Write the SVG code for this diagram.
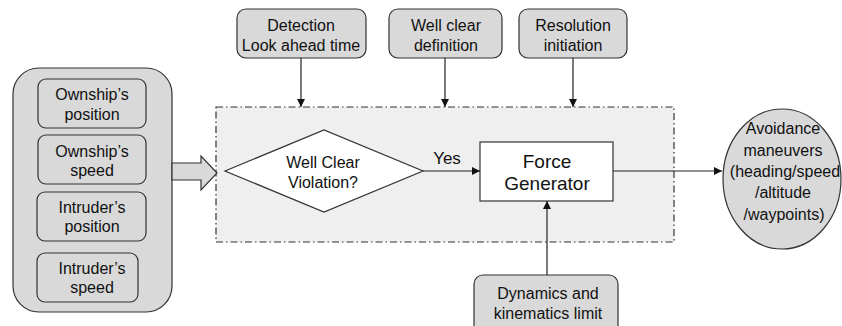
<svg xmlns="http://www.w3.org/2000/svg" width="842" height="326" viewBox="0 0 842 326">
  <defs>
    <marker id="arrow" viewBox="0 0 10 10" refX="10" refY="5" markerWidth="8" markerHeight="8" markerUnits="userSpaceOnUse" orient="auto">
      <path d="M0,0 L10,5 L0,10 Z" fill="#111"/>
    </marker>
  </defs>
  <style>
    text { font-family: "Liberation Sans", Arial, sans-serif; font-size: 16px; fill: #111; text-anchor: middle; }
    .grey { fill: #d9d9d9; stroke: #333; stroke-width: 1.2; }
    .white { fill: #ffffff; stroke: #333; stroke-width: 1.2; }
    .edge { fill: none; stroke: #222; stroke-width: 1.2; marker-end: url(#arrow); }
    .frame { fill: #efefef; stroke: #333; stroke-width: 1.2; stroke-dasharray: 7 3 1.5 3; }
  </style>

  <!-- processing frame -->
  <g id="frame">
    <rect class="frame" x="216" y="107" width="458" height="135"/>
  </g>

  <!-- input bundle -->
  <g id="inputs">
    <rect class="grey" x="13" y="68" width="159" height="244" rx="26"/>
    <g id="ownship-position">
      <rect class="grey" x="38" y="79" width="108" height="49" rx="8"/>
      <text x="92" y="100">Ownship’s</text>
      <text x="92" y="120">position</text>
    </g>
    <g id="ownship-speed">
      <rect class="grey" x="38" y="135" width="108" height="49" rx="8"/>
      <text x="92" y="157">Ownship’s</text>
      <text x="92" y="176">speed</text>
    </g>
    <g id="intruder-position">
      <rect class="grey" x="37" y="192" width="109" height="49" rx="8"/>
      <text x="92" y="213">Intruder’s</text>
      <text x="92" y="232">position</text>
    </g>
    <g id="intruder-speed">
      <rect class="grey" x="37" y="253" width="101" height="49" rx="8"/>
      <text x="92" y="274">Intruder’s</text>
      <text x="92" y="293">speed</text>
    </g>
  </g>

  <!-- block arrow into the frame -->
  <g id="input-arrow">
    <path class="grey" d="M172,163 L201,163 L201,156 L217,173 L201,190 L201,180 L172,180 Z"/>
  </g>

  <!-- parameter boxes -->
  <g id="detection">
    <rect class="grey" x="237" y="9" width="129" height="49" rx="9"/>
    <text x="301" y="31">Detection</text>
    <text x="301" y="51">Look ahead time</text>
  </g>
  <g id="well-clear">
    <rect class="grey" x="389" y="9" width="113" height="49" rx="9"/>
    <text x="446" y="31">Well clear</text>
    <text x="446" y="51">definition</text>
  </g>
  <g id="resolution">
    <rect class="grey" x="519" y="9" width="108" height="49" rx="9"/>
    <text x="573" y="31">Resolution</text>
    <text x="573" y="51">initiation</text>
  </g>

  <!-- decision -->
  <g id="violation">
    <polygon class="white" points="225,171 324,130 423,171 324,212"/>
    <text x="323" y="168">Well Clear</text>
    <text x="323" y="188">Violation?</text>
  </g>

  <!-- force generator -->
  <g id="force-generator">
    <rect class="white" x="480" y="142" width="133" height="59"/>
    <text x="547" y="168" style="font-size:19px">Force</text>
    <text x="547" y="190" style="font-size:19px">Generator</text>
  </g>

  <!-- limits -->
  <g id="dynamics">
    <rect class="grey" x="474" y="275" width="144" height="60" rx="9"/>
    <text x="548" y="299">Dynamics and</text>
    <text x="548" y="319">kinematics limit</text>
  </g>

  <!-- output -->
  <g id="avoidance">
    <ellipse class="grey" cx="782" cy="179" rx="59" ry="70"/>
    <text x="783" y="134">Avoidance</text>
    <text x="783" y="156">maneuvers</text>
    <text x="785" y="177">(heading/speed</text>
    <text x="783" y="198">/altitude</text>
    <text x="784" y="220">/waypoints)</text>
  </g>

  <!-- connectors -->
  <g id="connectors">
    <line class="edge" x1="301" y1="58" x2="301" y2="107"/>
    <line class="edge" x1="445" y1="58" x2="445" y2="107"/>
    <line class="edge" x1="573" y1="58" x2="573" y2="107"/>
    <line class="edge" x1="423" y1="171" x2="480" y2="171"/>
    <line class="edge" x1="547" y1="275" x2="547" y2="201"/>
    <line class="edge" x1="613" y1="171" x2="722" y2="171"/>
    <text x="447" y="164" style="font-size:17px">Yes</text>
  </g>
</svg>
